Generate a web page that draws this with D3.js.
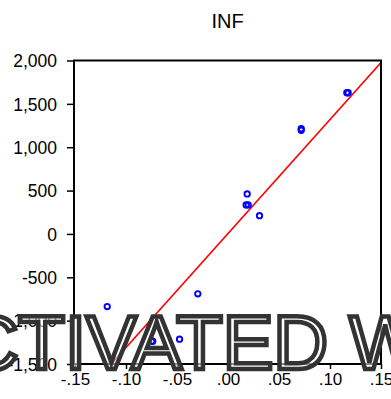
<!DOCTYPE html>
<html>
<head>
<meta charset="utf-8">
<script src="https://cdn.jsdelivr.net/npm/d3@7"></script>
<style>
  html, body { margin: 0; padding: 0; background: #fff; }
  svg { display: block; }
</style>
</head>
<body>
<script>
// Scatter of INF against the regressor, with the fitted line
const title = "INF";
const xValues = [0.1165, 0.1178, 0.0718, 0.0718, 0.0188, 0.0178, 0.0198, 0.0309, -0.0296, -0.1184, -0.0748, -0.0738, -0.0475];
const yValues = [1628, 1628, 1213, 1195, 461, 334, 334, 211, -691, -838, -1237, -1237, -1214];
const xTicks = [-0.15, -0.10, -0.05, 0.00, 0.05, 0.10, 0.15];
const yTicks = [-1500, -1000, -500, 0, 500, 1000, 1500, 2000];
const fitIntercept = [5];
const fitSlope = [13150];
const watermark = "ACTIVATED W";

const W = 391, H = 399;
const svg = d3.select("body").append("svg").attr("width", W).attr("height", H);

const x = d3.scaleLinear().domain([-0.15, 0.15]).range([75, 381]);
const y = d3.scaleLinear().domain([-1500, 2000]).range([364, 60.5]);

const loc = d3.formatLocale({decimal: ".", thousands: ",", grouping: [3], currency: ["$", ""], minus: "-"});
const fy = loc.format(",");
const fx2 = loc.format(".2f");
const fx = v => fx2(v).replace(/^(-?)0\./, "$1.");

const font = "'Liberation Sans', Arial, sans-serif";

// title
svg.append("text")
  .attr("x", 227.5).attr("y", 28)
  .attr("text-anchor", "middle")
  .style("font-family", font).style("font-size", "20px")
  .text(title);

// y axis
const gy = svg.append("g").attr("transform", `translate(${x.range()[0] - 1},0)`)
  .call(d3.axisLeft(y).tickValues(yTicks).tickFormat(fy).tickSize(7).tickSizeOuter(0).tickPadding(10));
gy.select(".domain").remove();
gy.selectAll(".tick line").attr("stroke", "#000").attr("stroke-width", 1.5);
gy.selectAll(".tick text").style("font-family", font).style("font-size", "17.5px").attr("fill", "#000").attr("dy", "0.36em");

// x axis
const gx = svg.append("g").attr("transform", `translate(0,${y.range()[0]})`)
  .call(d3.axisBottom(x).tickValues(xTicks).tickFormat(fx).tickSize(5).tickSizeOuter(0).tickPadding(4));
gx.select(".domain").remove();
gx.selectAll(".tick line").attr("stroke", "#000").attr("stroke-width", 1.5);
gx.selectAll(".tick text").style("font-family", font).style("font-size", "17px").attr("fill", "#000");

// plot clip
svg.append("clipPath").attr("id", "plotclip")
  .append("rect")
  .attr("x", x.range()[0]).attr("y", y.range()[1])
  .attr("width", x.range()[1] - x.range()[0])
  .attr("height", y.range()[0] - y.range()[1]);

// fitted line
const xd = x.domain();
const lineData = xd.map(v => ({ x: v, y: fitIntercept[0] + fitSlope[0] * v }));
svg.append("path")
  .datum(lineData)
  .attr("clip-path", "url(#plotclip)")
  .attr("fill", "none").attr("stroke", "#ff0000").attr("stroke-width", 1.6)
  .attr("d", d3.line().x(d => x(d.x)).y(d => y(d.y)));

// points
svg.append("g").selectAll("circle")
  .data(xValues.map((v, i) => ({ x: v, y: yValues[i] })))
  .join("circle")
  .attr("cx", d => x(d.x)).attr("cy", d => y(d.y))
  .attr("r", 2.7)
  .attr("fill", "none").attr("stroke", "#0000ff").attr("stroke-width", 1.9);

// frame
svg.append("rect")
  .attr("x", x.range()[0] - 1).attr("y", y.range()[1])
  .attr("width", x.range()[1] - x.range()[0] + 1)
  .attr("height", y.range()[0] - y.range()[1])
  .attr("fill", "none").attr("stroke", "#000").attr("stroke-width", 2);

// overlay text
svg.append("text")
  .attr("x", -87).attr("y", 369)
  .style("font-family", font).style("font-size", "76px")
  .attr("fill", "#fff").attr("fill-opacity", 0.55)
  .attr("stroke", "#333").attr("stroke-width", 4.5)
  .attr("stroke-linejoin", "miter")
  .text(watermark);
</script>
</body>
</html>
